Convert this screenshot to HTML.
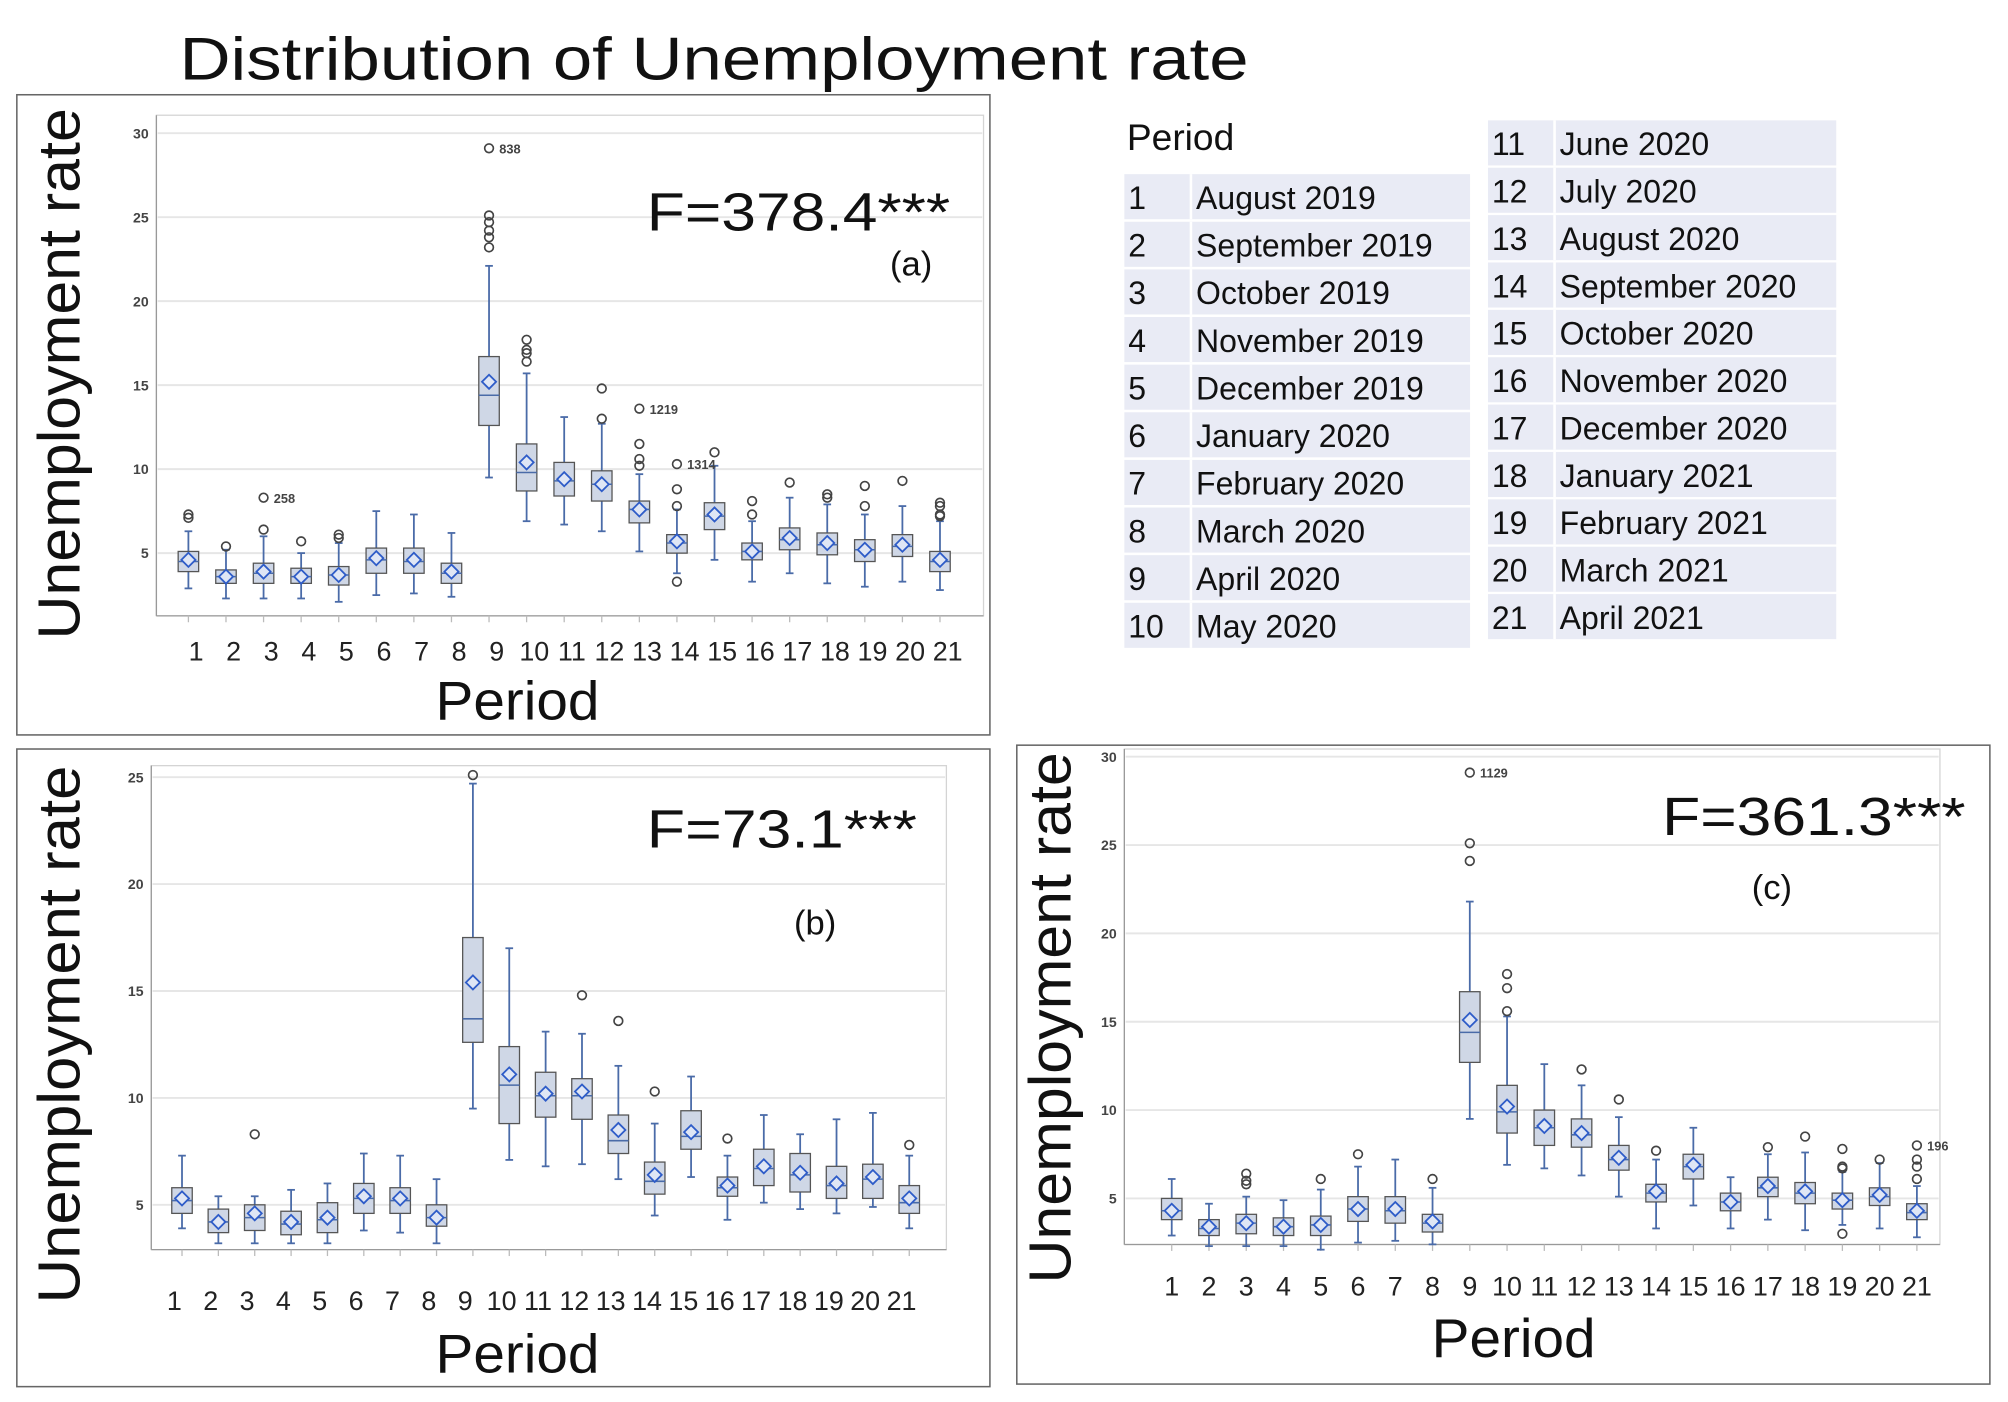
<!DOCTYPE html>
<html><head><meta charset="utf-8"><style>
html,body{margin:0;padding:0;background:#fff}
svg{display:block}
text{font-family:"Liberation Sans",sans-serif}
</style></head><body>
<svg id="fig" width="2008" height="1402" viewBox="0 0 1568 1095" xmlns="http://www.w3.org/2000/svg">
<rect width="1568" height="1095" fill="#fff"/>
<text x="140" y="62" font-size="47" fill="#111" textLength="835" lengthAdjust="spacingAndGlyphs">Distribution of Unemployment rate</text>
<g id="legend"></g>
</svg>
<script>
// ---------- data ----------
const categories = ["1","2","3","4","5","6","7","8","9","10","11","12","13","14","15","16","17","18","19","20","21"];
const periodNames = ["August 2019","September 2019","October 2019","November 2019","December 2019","January 2020","February 2020","March 2020","April 2020","May 2020","June 2020","July 2020","August 2020","September 2020","October 2020","November 2020","December 2020","January 2021","February 2021","March 2021","April 2021"];

// Panel (a)
const loA   = [2.9,2.3,2.3,2.3,2.1,2.5,2.6,2.4,9.5,6.9,6.7,6.3,5.1,3.8,4.6,3.3,3.8,3.2,3.0,3.3,2.8];
const q1A   = [3.9,3.2,3.2,3.2,3.1,3.8,3.8,3.2,12.6,8.7,8.4,8.1,6.8,5.0,6.4,4.6,5.2,4.9,4.5,4.8,3.9];
const medA  = [4.5,3.6,3.8,3.6,3.7,4.6,4.5,3.8,14.4,9.8,9.3,9.1,7.6,5.6,7.2,5.1,5.8,5.5,5.2,5.4,4.5];
const q3A   = [5.1,4.0,4.4,4.1,4.2,5.3,5.3,4.4,16.7,11.5,10.4,9.9,8.1,6.1,8.0,5.6,6.5,6.2,5.8,6.1,5.1];
const hiA   = [6.3,5.2,6.0,5.0,5.6,7.5,7.3,6.2,22.1,15.7,13.1,12.7,9.7,7.6,10.2,6.9,8.3,7.9,7.3,7.8,6.9];
const meanA = [4.6,3.6,3.9,3.6,3.7,4.7,4.6,3.9,15.2,10.4,9.4,9.1,7.6,5.7,7.3,5.1,5.9,5.6,5.2,5.5,4.6];
const outA  = [[7.1,7.3],[5.4],[6.4,8.3],[5.7],[5.9,6.1],[],[],[],[23.2,23.8,24.2,24.7,25.1,29.1],[16.4,16.9,17.1,17.7],[],[13.0,14.8],[10.2,10.6,11.5,13.6],[3.3,7.8,8.8,10.3],[11.0],[7.3,8.1],[9.2],[8.3,8.5],[7.8,9.0],[9.3],[7.2,7.3,7.8,8.0]];
const idA   = [[2,8.3,"258"],[8,29.1,"838"],[12,13.6,"1219"],[13,10.3,"1314"]];

// Panel (b)
const loB   = [3.9,3.2,3.2,3.2,3.2,3.8,3.7,3.2,9.5,7.1,6.8,6.9,6.2,4.5,6.3,4.3,5.1,4.8,4.6,4.9,3.9];
const q1B   = [4.6,3.7,3.8,3.6,3.7,4.6,4.6,4.0,12.6,8.8,9.1,9.0,7.4,5.5,7.6,5.4,5.9,5.6,5.3,5.3,4.6];
const medB  = [5.2,4.2,4.4,4.1,4.3,5.3,5.2,4.4,13.7,10.6,10.1,10.1,8.0,6.1,8.2,5.8,6.7,6.4,5.9,6.2,5.1];
const q3B   = [5.8,4.8,5.0,4.7,5.1,6.0,5.8,5.0,17.5,12.4,11.2,10.9,9.2,7.0,9.4,6.3,7.6,7.4,6.8,6.9,5.9];
const hiB   = [7.3,5.4,5.4,5.7,6.0,7.4,7.3,6.2,24.7,17.0,13.1,13.0,11.5,8.8,11.0,7.3,9.2,8.3,9.0,9.3,7.3];
const meanB = [5.3,4.2,4.6,4.2,4.4,5.4,5.3,4.4,15.4,11.1,10.2,10.3,8.5,6.4,8.4,5.9,6.8,6.5,6.0,6.3,5.3];
const outB  = [[],[],[8.3],[],[],[],[],[],[25.1],[],[],[14.8],[13.6],[10.3],[],[8.1],[],[],[],[],[7.8]];

// Panel (c)
const loC   = [2.9,2.3,2.3,2.3,2.1,2.5,2.6,2.4,9.5,6.9,6.7,6.3,5.1,3.3,4.6,3.3,3.8,3.2,3.5,3.3,2.8];
const q1C   = [3.8,2.9,3.0,2.9,2.9,3.7,3.6,3.1,12.7,8.7,8.0,7.9,6.6,4.8,6.1,4.3,5.1,4.7,4.4,4.6,3.8];
const medC  = [4.3,3.3,3.6,3.4,3.5,4.4,4.3,3.6,14.4,9.9,9.0,8.6,7.2,5.3,6.8,4.8,5.6,5.3,4.9,5.1,4.2];
const q3C   = [5.0,3.8,4.1,3.9,4.0,5.1,5.1,4.1,16.7,11.4,10.0,9.5,8.0,5.8,7.5,5.3,6.2,5.9,5.3,5.6,4.7];
const hiC   = [6.1,4.7,5.1,4.9,5.5,6.8,7.2,5.6,21.8,15.3,12.6,11.4,9.6,7.2,9.0,6.2,7.5,7.6,6.5,7.0,5.7];
const meanC = [4.3,3.4,3.6,3.4,3.5,4.4,4.4,3.7,15.1,10.2,9.1,8.7,7.3,5.4,6.9,4.8,5.7,5.4,4.9,5.2,4.3];
const outC  = [[],[],[5.8,6.0,6.4],[],[6.1],[7.5],[],[6.1],[24.1,25.1,29.1],[15.6,16.9,17.7],[],[12.3],[10.6],[7.7],[],[],[7.9],[8.5],[3.0,6.7,6.8,7.8],[7.2],[6.1,6.8,7.2,8.0]];
const idC   = [[8,29.1,"1129"],[20,8.0,"196"]];

const ticksA = [5,10,15,20,25,30];
const ticksB = [5,10,15,20,25];
const ticksC = [5,10,15,20,25,30];

// ---------- drawing ----------
const NS = "http://www.w3.org/2000/svg";
const svg = document.getElementById('fig');
function mk(tag, attrs, parent, txt){
  const e = document.createElementNS(NS, tag);
  for (const k in attrs) e.setAttribute(k, attrs[k]);
  if (txt !== undefined) e.textContent = txt;
  (parent||svg).appendChild(e);
  return e;
}

function panel(p){
  const g = mk('g', {});
  
  
  const frame = mk('rect', {x:p.fx, y:p.fy, width:p.fw, height:p.fh, fill:'#fff', stroke:'#666', 'stroke-width':1.2}, g);
  
  
  const ys = v => p.y0 - (v - p.v0) * p.k;
  const xs = i => p.x1 + i * p.dx;
  const pa = mk('rect', {x:p.px, y:p.py, width:p.pw, height:p.ph, fill:'none', stroke:'#d4d4d4', 'stroke-width':1}, g);
  
  
  mk('line', {x1:p.px, x2:p.px, y1:p.py, y2:p.py+p.ph, stroke:'#999', 'stroke-width':1}, g);
  mk('line', {x1:p.px, x2:p.px+p.pw, y1:p.py+p.ph, y2:p.py+p.ph, stroke:'#999', 'stroke-width':1}, g);
  p.ticks.forEach(t => {
    const y = ys(t);
    const gl = mk('line', {x1:p.px+1, x2:p.px+p.pw-1, y1:y, y2:y, stroke:'#e6e6e6', 'stroke-width':1.5}, g);
    
    
    const tl = mk('text', {x:p.px-6, y:y+4, 'font-size':11, 'font-weight':'bold', fill:'#444', 'text-anchor':'end'}, g, String(t));
    
    
  });
  const bw = 16;
  categories.forEach((c, i) => {
    const x = xs(i);
    mk('line', {x1:x, x2:x, y1:p.py+p.ph, y2:p.py+p.ph+5, stroke:'#bbb', 'stroke-width':1}, g);
    const cl = mk('text', {x:x+p.lblOff, y:p.ly, 'font-size':21, fill:'#222', 'text-anchor':'middle'}, g, c);
    
    
    const bg = mk('g', {}, g);
    
    
    mk('line', {x1:x, x2:x, y1:ys(p.hi[i]), y2:ys(p.q3[i]), stroke:'#4a6ba8', 'stroke-width':1.4}, bg);
    mk('line', {x1:x, x2:x, y1:ys(p.q1[i]), y2:ys(p.lo[i]), stroke:'#4a6ba8', 'stroke-width':1.4}, bg);
    mk('line', {x1:x-3, x2:x+3, y1:ys(p.hi[i]), y2:ys(p.hi[i]), stroke:'#4a6ba8', 'stroke-width':1.4}, bg);
    mk('line', {x1:x-3, x2:x+3, y1:ys(p.lo[i]), y2:ys(p.lo[i]), stroke:'#4a6ba8', 'stroke-width':1.4}, bg);
    mk('rect', {x:x-bw/2, y:ys(p.q3[i]), width:bw, height:ys(p.q1[i])-ys(p.q3[i]), fill:'#cfd7e6', stroke:'#555', 'stroke-width':1}, bg);
    mk('line', {x1:x-bw/2, x2:x+bw/2, y1:ys(p.med[i]), y2:ys(p.med[i]), stroke:'#4a6ba8', 'stroke-width':1.2}, bg);
    const my = ys(p.mean[i]);
    mk('polygon', {points:`${x},${my-5.5} ${x+5.5},${my} ${x},${my+5.5} ${x-5.5},${my}`, fill:'#dfe6f5', stroke:'#2e5cc8', 'stroke-width':1.4}, bg);
    p.out[i].forEach(v => {
      const o = mk('circle', {cx:x, cy:ys(v), r:3.4, fill:'none', stroke:'#444', 'stroke-width':1.3}, bg);
      
      
    });
  });
  (p.ids||[]).forEach(d => {
    const t = mk('text', {x:xs(d[0])+8, y:ys(d[1])+4, 'font-size':10, 'font-weight':'bold', fill:'#444'}, g, d[2]);
    
    
  });
  const yt = mk('text', {x:0, y:0, 'font-size':46, fill:'#111', 'text-anchor':'middle', textLength:p.ytl, lengthAdjust:'spacingAndGlyphs', transform:`translate(${p.ytx},${p.yty}) rotate(-90)`}, g, 'Unemployment rate');
  
  
  const xt = mk('text', {x:p.xtx, y:p.xty, 'font-size':43, fill:'#111', 'text-anchor':'middle', textLength:128, lengthAdjust:'spacingAndGlyphs'}, g, 'Period');
  
  
  const ft = mk('text', {x:p.fsx, y:p.fsy, 'font-size':42, fill:'#111', textLength:p.fsl, lengthAdjust:'spacingAndGlyphs'}, g, p.fstat);
  
  
  const pl = mk('text', {x:p.plx, y:p.ply, 'font-size':27, fill:'#111'}, g, p.plabel);
  
  
}

panel({key:'a', fx:13, fy:74, fw:760, fh:500, px:122, py:90, pw:646, ph:391,
  y0:432, v0:5, k:13.12, x1:147, dx:29.35, lblOff:6, ly:516, ticks:ticksA,
  lo:loA, q1:q1A, med:medA, q3:q3A, hi:hiA, mean:meanA, out:outA, ids:idA,
  ytx:62, yty:292, ytl:415, xtx:404, xty:562, fstat:'F=378.4***', fsl:237, fsx:505, fsy:180, plabel:'(a)', plx:695, ply:215});
panel({key:'b', fx:13, fy:585, fw:760, fh:498, px:118, py:598, pw:621, ph:378,
  y0:941, v0:5, k:16.7, x1:142, dx:28.4, lblOff:-6, ly:1023, ticks:ticksB,
  lo:loB, q1:q1B, med:medB, q3:q3B, hi:hiB, mean:meanB, out:outB, ids:[],
  ytx:62, yty:808, ytl:420, xtx:404, xty:1072, fstat:'F=73.1***', fsl:211, fsx:505, fsy:662, plabel:'(b)', plx:620, ply:730});
panel({key:'c', fx:794, fy:582, fw:760, fh:499, px:878, py:585, pw:637, ph:387,
  y0:936, v0:5, k:13.8, x1:915, dx:29.1, lblOff:0, ly:1012, ticks:ticksC,
  lo:loC, q1:q1C, med:medC, q3:q3C, hi:hiC, mean:meanC, out:outC, ids:idC,
  ytx:836, yty:795, ytl:415, xtx:1182, xty:1060, fstat:'F=361.3***', fsl:237, fsx:1298, fsy:652, plabel:'(c)', plx:1368, ply:702});

// ---------- legend table ----------
const lg = document.getElementById('legend');
const lh = mk('text', {x:880, y:117, 'font-size':29, fill:'#111'}, lg, 'Period');


periodNames.forEach((name, i) => {
  let x0, y0, rh = 37.2, w = 270;
  if (i < 10) { x0 = 878; y0 = 136 + i * rh; }
  else { x0 = 1162; y0 = 94 + (i - 10) * 37.0; w = 272; }
  const row = mk('g', {}, lg);
  
  
  mk('rect', {x:x0, y:y0, width:w, height:rh-2, fill:'#e9ebf5'}, row);
  mk('line', {x1:x0+52, x2:x0+52, y1:y0, y2:y0+rh-2, stroke:'#fff', 'stroke-width':2}, row);
  mk('text', {x:x0+3, y:y0+rh-10, 'font-size':25, fill:'#111'}, row, categories[i]);
  mk('text', {x:x0+56, y:y0+rh-10, 'font-size':25, fill:'#111'}, row, name);
});
</script>
</body></html>
